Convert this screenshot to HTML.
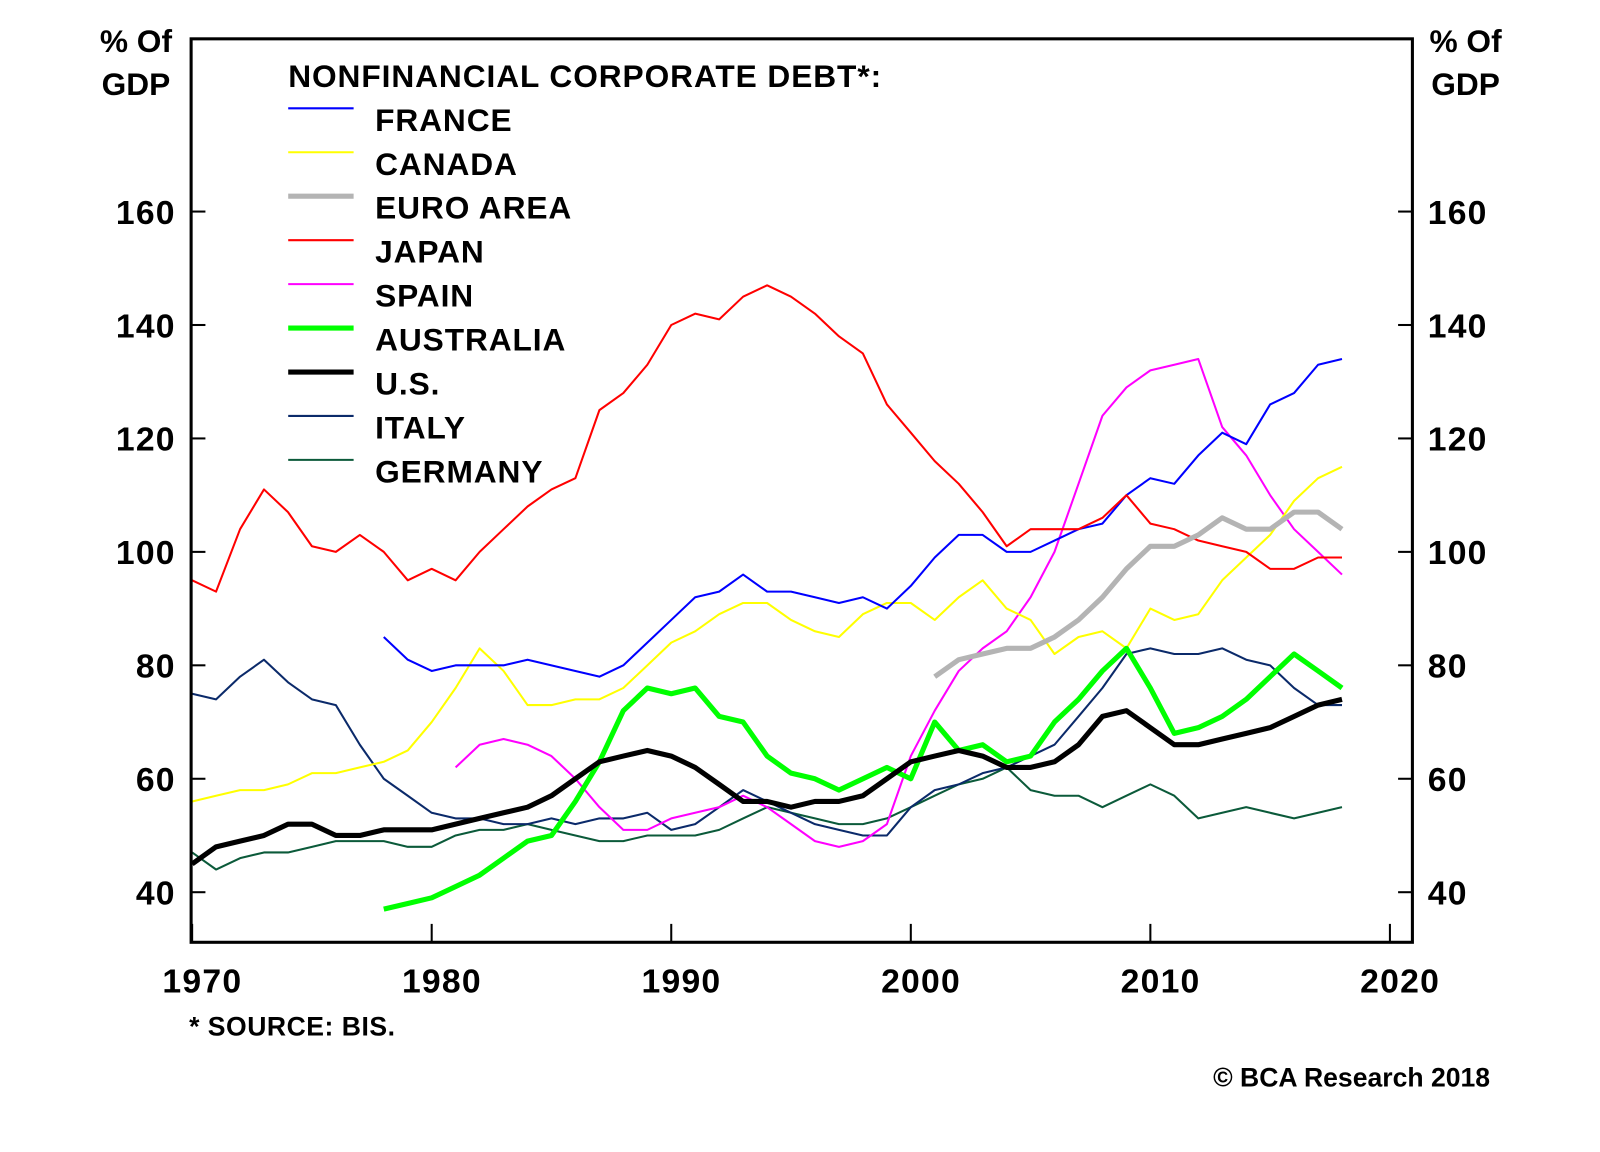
<!DOCTYPE html>
<html><head><meta charset="utf-8"><style>
html,body{margin:0;padding:0;background:#fff;}
svg{display:block;font-family:"Liberation Sans",sans-serif;font-weight:bold;}
</style></head><body>
<svg id="chart" width="1600" height="1152" viewBox="0 0 1600 1152" xmlns="http://www.w3.org/2000/svg">
<rect width="1600" height="1152" fill="#fff"/>
<g transform="scale(1.022)">
<g id="grid"></g>
<g id="series"></g>
<g id="legend"></g>
<rect x="187" y="38" width="1195" height="884" fill="none" stroke="#000" stroke-width="3"/>
<text x="133" y="51" font-size="31" text-anchor="middle">% Of</text>
<text x="133" y="93" font-size="31" text-anchor="middle">GDP</text>
<text x="1434" y="51" font-size="31" text-anchor="middle">% Of</text>
<text x="1434" y="93" font-size="31" text-anchor="middle">GDP</text>
<text x="185" y="1013" font-size="26" letter-spacing="0.5">* SOURCE: BIS.</text>
<text x="1458" y="1063" font-size="26" text-anchor="end">© BCA Research 2018</text>
</g>
</svg>
<script>
const years = [1970,1971,1972,1973,1974,1975,1976,1977,1978,1979,1980,1981,1982,1983,1984,1985,1986,1987,1988,1989,1990,1991,1992,1993,1994,1995,1996,1997,1998,1999,2000,2001,2002,2003,2004,2005,2006,2007,2008,2009,2010,2011,2012,2013,2014,2015,2016,2017,2018];
const japan = [95,93,104,111,107,101,100,103,100,95,97,95,100,104,108,111,113,125,128,133,140,142,141,145,147,145,142,138,135,126,121,116,112,107,101,104,104,104,106,110,105,104,102,101,100,97,97,99,99];
const france = [null,null,null,null,null,null,null,null,85,81,79,80,80,80,81,80,79,78,80,84,88,92,93,96,93,93,92,91,92,90,94,99,103,103,100,100,102,104,105,110,113,112,117,121,119,126,128,133,134];
const canada = [56,57,58,58,59,61,61,62,63,65,70,76,83,79,73,73,74,74,76,80,84,86,89,91,91,88,86,85,89,91,91,88,92,95,90,88,82,85,86,83,90,88,89,95,99,103,109,113,115];
const euroArea = [null,null,null,null,null,null,null,null,null,null,null,null,null,null,null,null,null,null,null,null,null,null,null,null,null,null,null,null,null,null,null,78,81,82,83,83,85,88,92,97,101,101,103,106,104,104,107,107,104];
const spain = [null,null,null,null,null,null,null,null,null,null,null,62,66,67,66,64,60,55,51,51,53,54,55,57,55,52,49,48,49,52,64,72,79,83,86,92,100,112,124,129,132,133,134,122,117,110,104,100,96];
const australia = [null,null,null,null,null,null,null,null,37,38,39,41,43,46,49,50,56,63,72,76,75,76,71,70,64,61,60,58,60,62,60,70,65,66,63,64,70,74,79,83,76,68,69,71,74,78,82,79,76];
const us = [45,48,49,50,52,52,50,50,51,51,51,52,53,54,55,57,60,63,64,65,64,62,59,56,56,55,56,56,57,60,63,64,65,64,62,62,63,66,71,72,69,66,66,67,68,69,71,73,74];
const italy = [75,74,78,81,77,74,73,66,60,57,54,53,53,52,52,53,52,53,53,54,51,52,55,58,56,54,52,51,50,50,55,58,59,61,62,64,66,71,76,82,83,82,82,83,81,80,76,73,73];
const germany = [47,44,46,47,47,48,49,49,49,48,48,50,51,51,52,51,50,49,49,50,50,50,51,53,55,54,53,52,52,53,55,57,59,60,62,58,57,57,55,57,59,57,53,54,55,54,53,54,55];
const yTicks = [40,60,80,100,120,140,160];
const xTicks = [1970,1980,1990,2000,2010,2020];
const seriesNames = ["FRANCE","CANADA","EURO AREA","JAPAN","SPAIN","AUSTRALIA","U.S.","ITALY","GERMANY"];

const NS="http://www.w3.org/2000/svg";
function xs(yr){return 188+(yr-1970)*23.44;}
function ys(v){return 540-(v-100)*5.55;}
function mk(tag,attrs,parent){const e=document.createElementNS(NS,tag);for(const k in attrs)e.setAttribute(k,attrs[k]);parent.appendChild(e);return e;}

const grid=document.getElementById('grid');
yTicks.forEach(v=>{
  const l=mk('line',{x1:187,x2:201,y1:ys(v),y2:ys(v),stroke:'#000','stroke-width':2},grid);
  
  
  const r=mk('line',{x1:1368,x2:1382,y1:ys(v),y2:ys(v),stroke:'#000','stroke-width':2},grid);
  
  
  const t=mk('text',{x:172,y:ys(v)+12,'font-size':33,'letter-spacing':1.2,'text-anchor':'end'},grid);
  t.textContent=v;
  
  
  const t2=mk('text',{x:1397,y:ys(v)+12,'font-size':33,'letter-spacing':1.2},grid);
  t2.textContent=v;
  
  
});
xTicks.forEach(yr=>{
  const l=mk('line',{x1:xs(yr),x2:xs(yr),y1:904,y2:922,stroke:'#000','stroke-width':2},grid);
  
  
  const t=mk('text',{x:xs(yr)+10,y:971,'font-size':33,'letter-spacing':1.2,'text-anchor':'middle'},grid);
  t.textContent=yr;
  
  
});

const seriesData=[
  [germany,'#0b5a3a',2,'germany-line'],
  [italy,'#0b2a6a',2,'italy-line'],
  [spain,'#ff00ff',2,'spain-line'],
  [canada,'#ffff00',2,'canada-line'],
  [france,'#0000ff',2,'france-line'],
  [japan,'#ff0000',2,'japan-line'],
  [euroArea,'#b4b4b4',5,'euro-area-line'],
  [australia,'#00ff00',5,'australia-line'],
  [us,'#000000',5,'us-line']
];
const sg=document.getElementById('series');
seriesData.forEach(([vals,col,w,name])=>{
  let d='';let started=false;
  vals.forEach((v,i)=>{if(v==null)return;d+=(started?'L':'M')+xs(years[i]).toFixed(1)+','+ys(v).toFixed(1);started=true;});
  const p=mk('path',{d:d,fill:'none',stroke:col,'stroke-width':w,'stroke-linejoin':'round'},sg);
  
  
});

const lg=document.getElementById('legend');
const lt=mk('text',{x:282,y:85,'font-size':31,'letter-spacing':0.9},lg);
lt.textContent='NONFINANCIAL CORPORATE DEBT*:';


const legCols=['#0000ff','#ffff00','#b4b4b4','#ff0000','#ff00ff','#00ff00','#000000','#0b2a6a','#0b5a3a'];
const legW=[2,2,5,2,2,5,5,2,2];
seriesNames.forEach((n,i)=>{
  const y=106+i*43;
  const l=mk('line',{x1:282,x2:346,y1:y,y2:y,stroke:legCols[i],'stroke-width':legW[i]},lg);
  
  
  const t=mk('text',{x:367,y:y+22,'font-size':31,'letter-spacing':0.9},lg);
  t.textContent=n;
  
  
});
</script>
</body></html>
